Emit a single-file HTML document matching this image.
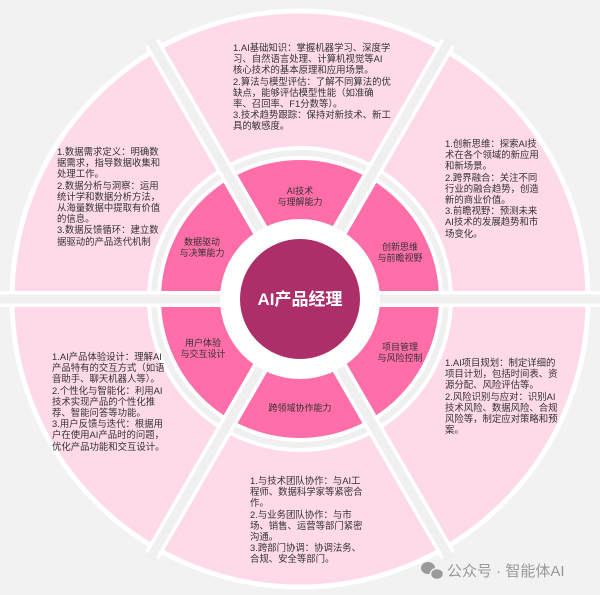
<!DOCTYPE html>
<html><head><meta charset="utf-8">
<style>
html,body{margin:0;padding:0;background:#f2f2f2;}
#w{position:relative;width:600px;height:595px;overflow:hidden;background:#f2f2f2;font-family:"Liberation Sans","Noto Sans CJK SC",sans-serif;}
svg{position:absolute;left:0;top:0;}
.t{position:absolute;font-size:9.4px;line-height:11.2px;color:#333;white-space:pre;}
.l{position:absolute;font-size:9px;line-height:10.5px;color:#333;text-align:center;white-space:pre;transform:translate(-50%,0);}
</style></head><body><div id="w">
<svg width="600" height="595" viewBox="0 0 600 595">
<circle cx="300" cy="299" r="288" fill="#fdd9e9" stroke="#fff" stroke-width="5"/>
<circle cx="300" cy="299" r="146" fill="#ff6ea8"/>
<circle cx="300" cy="299" r="146" fill="none" stroke="#fff" stroke-width="14"/>
<circle cx="300" cy="299" r="146" fill="none" stroke="#f0f0f0" stroke-width="6"/>
<g stroke="#fff" stroke-width="16">
<line x1="0" y1="299" x2="600" y2="299"/>
<line x1="152" y1="555.3" x2="448" y2="42.7"/>
<line x1="152" y1="42.7" x2="448" y2="555.3"/>
</g>
<g stroke="#f0f0f0" stroke-width="9">
<line x1="0" y1="299" x2="600" y2="299"/>
<line x1="150" y1="558.8" x2="450" y2="39.2"/>
<line x1="150" y1="39.2" x2="450" y2="558.8"/>
</g>
<circle cx="300" cy="299" r="80" fill="#fff"/>
<circle cx="300" cy="299" r="60" fill="#ad2f69"/>
<text x="300" y="305" text-anchor="middle" fill="#fff" font-size="17" font-weight="bold" font-family="Liberation Sans,Noto Sans CJK SC,sans-serif">AI产品经理</text>
<g fill="#9a9a9a">
<ellipse cx="428" cy="568" rx="7" ry="6"/>
<ellipse cx="437" cy="574" rx="6.5" ry="5.5" stroke="#f2f2f2" stroke-width="1.5"/>
</g>
<text x="447" y="576" fill="#999" font-size="15" font-family="Liberation Sans,Noto Sans CJK SC,sans-serif">公众号 · 智能体AI</text>
</svg>

<div class="t" style="left:233px;top:42px;">1.AI基础知识：掌握机器学习、深度学
习、自然语言处理、计算机视觉等AI
核心技术的基本原理和应用场景。
2.算法与模型评估：了解不同算法的优
缺点，能够评估模型性能（如准确
率、召回率、F1分数等）。
3.技术趋势跟踪：保持对新技术、新工
具的敏感度。</div>

<div class="t" style="left:57px;top:146px;">1.数据需求定义：明确数
据需求，指导数据收集和
处理工作。
2.数据分析与洞察：运用
统计学和数据分析方法，
从海量数据中提取有价值
的信息。
3.数据反馈循环：建立数
据驱动的产品迭代机制</div>

<div class="t" style="left:445px;top:138px;">1.创新思维：探索AI技
术在各个领域的新应用
和新场景。
2.跨界融合：关注不同
行业的融合趋势，创造
新的商业价值。
3.前瞻视野：预测未来
AI技术的发展趋势和市
场变化。</div>

<div class="t" style="left:52px;top:351px;">1.AI产品体验设计：理解AI
产品特有的交互方式（如语
音助手、聊天机器人等）。
2.个性化与智能化：利用AI
技术实现产品的个性化推
荐、智能问答等功能。
3.用户反馈与迭代：根据用
户在使用AI产品时的问题，
优化产品功能和交互设计。</div>

<div class="t" style="left:445px;top:357px;">1.AI项目规划：制定详细的
项目计划，包括时间表、资
源分配、风险评估等。
2.风险识别与应对：识别AI
技术风险、数据风险、合规
风险等，制定应对策略和预
案。</div>

<div class="t" style="left:250px;top:475px;">1.与技术团队协作：与AI工
程师、数据科学家等紧密合
作。
2.与业务团队协作：与市
场、销售、运营等部门紧密
沟通。
3.跨部门协调：协调法务、
合规、安全等部门。</div>

<div class="l" style="left:300px;top:186px;">AI技术
与理解能力</div>
<div class="l" style="left:400px;top:242px;">创新思维
与前瞻视野</div>
<div class="l" style="left:202px;top:237px;">数据驱动
与决策能力</div>
<div class="l" style="left:203px;top:338px;">用户体验
与交互设计</div>
<div class="l" style="left:400px;top:342px;">项目管理
与风险控制</div>
<div class="l" style="left:300px;top:403px;">跨领域协作能力</div>
</div></body></html>
